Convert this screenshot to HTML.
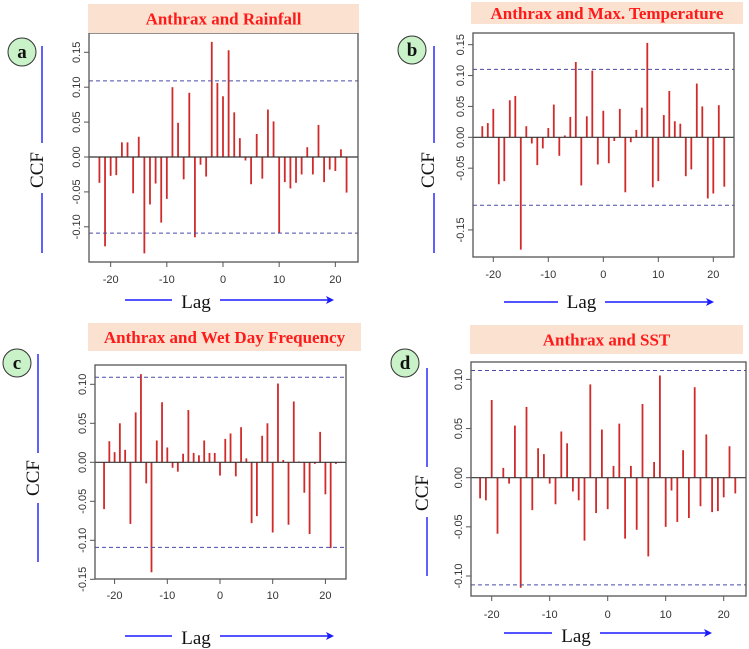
<!DOCTYPE html>
<html><head><meta charset="utf-8">
<style>
html,body{margin:0;padding:0;background:#fff;}
svg{display:block;}
</style></head>
<body>
<svg id="fig" width="749" height="649" viewBox="0 0 749 649" xmlns="http://www.w3.org/2000/svg"></svg>
<script>
const lags = [-22,-21,-20,-19,-18,-17,-16,-15,-14,-13,-12,-11,-10,-9,-8,-7,-6,-5,-4,-3,-2,-1,0,1,2,3,4,5,6,7,8,9,10,11,12,13,14,15,16,17,18,19,20,21,22];
const ccfRainfall = [-0.037,-0.128,-0.027,-0.026,0.021,0.021,-0.052,0.029,-0.138,-0.068,-0.038,-0.094,-0.060,0.100,0.049,-0.032,0.092,-0.115,-0.011,-0.028,0.165,0.106,0.087,0.153,0.064,0.027,-0.005,-0.039,0.033,-0.031,0.068,0.051,-0.109,-0.036,-0.045,-0.037,-0.025,0.014,-0.025,0.046,-0.036,-0.018,-0.020,0.011,-0.051];
const ccfMaxTemp = [0.018,0.023,0.046,-0.076,-0.071,0.060,0.067,-0.182,0.018,-0.010,-0.045,-0.018,0.015,0.053,-0.030,0.003,0.033,0.122,-0.078,0.034,0.108,-0.044,0.043,-0.042,-0.006,0.046,-0.089,-0.008,0.012,0.048,0.153,-0.081,-0.071,0.036,0.075,0.026,0.022,-0.063,-0.052,0.087,0.050,-0.099,-0.091,0.052,-0.080];
const ccfWetDay = [-0.060,0.027,0.013,0.050,0.016,-0.079,0.064,0.113,-0.027,-0.141,0.028,0.077,0.019,-0.007,-0.012,0.011,0.067,0.012,0.009,0.028,0.012,0.012,-0.017,0.030,0.037,-0.018,0.045,0.005,-0.078,-0.069,0.034,0.050,-0.090,0.101,0.003,-0.080,0.078,0.001,-0.039,-0.092,-0.002,0.039,-0.041,-0.110,-0.002];
const ccfSST = [-0.021,-0.023,0.079,-0.057,0.010,-0.006,0.053,-0.112,0.072,-0.033,0.030,0.024,-0.006,-0.027,0.047,0.035,-0.014,-0.023,-0.064,0.095,-0.036,0.049,-0.032,0.012,0.055,-0.062,0.012,-0.053,0.075,-0.080,0.016,0.104,-0.050,-0.013,-0.045,0.028,-0.041,0.092,-0.029,0.044,-0.035,-0.034,-0.020,0.032,-0.016];
const xTicks = [-20,-10,0,10,20];
const yTicksA = [-0.10,-0.05,0.00,0.05,0.10,0.15];
const yTicksB = [-0.15,-0.05,0.00,0.05,0.10,0.15];
const yTicksC = [-0.15,-0.10,-0.05,0.00,0.05,0.10];
const yTicksD = [-0.10,-0.05,0.00,0.05,0.10];
const confA = 0.109, confB = 0.110, confC = 0.109, confD = 0.109;

const NS='http://www.w3.org/2000/svg';
const svg=document.getElementById('fig');
function mk(tag,attrs,parent){const e=document.createElementNS(NS,tag);for(const k in attrs)e.setAttribute(k,attrs[k]);(parent||svg).appendChild(e);return e;}

const panels=[
 {id:'a',title:'Anthrax and Rainfall',vals:ccfRainfall,ticks:yTicksA,conf:confA,
  box:[89,33,358,262],x0:223,pxLag:5.617,y0:157,pxUnit:698,tickY:283,
  tb:[88,4,359,33],lagY:302,arrL:[125,172],arrR:[220,332],arrY:300,
  ccf:[37,170],bl:[42,46,143,193,253],badge:[22,52]},
 {id:'b',title:'Anthrax and Max. Temperature',vals:ccfMaxTemp,ticks:yTicksB,conf:confB,
  box:[473,33,734,257],x0:603.3,pxLag:5.5,y0:137.3,pxUnit:617.5,tickY:278,
  tb:[471,2,743,24],lagY:302,arrL:[504,558],arrR:[605,712],arrY:302,
  ccf:[428,170],bl:[434,46,143,193,253],badge:[412,50]},
 {id:'c',title:'Anthrax and Wet Day Frequency',vals:ccfWetDay,ticks:yTicksC,conf:confC,
  box:[95,365,346,579],x0:220,pxLag:5.27,y0:462.3,pxUnit:780,tickY:599,
  tb:[88,323,361,351],lagY:638,arrL:[125,172],arrR:[220,332],arrY:636,
  ccf:[33,478],bl:[38,354,453,503,562],badge:[17,363]},
 {id:'d',title:'Anthrax and SST',vals:ccfSST,ticks:yTicksD,conf:confD,
  box:[471,362,746,596],x0:607.7,pxLag:5.8,y0:477.7,pxUnit:983,tickY:618,
  tb:[470,325,743,354],lagY:636,arrL:[504,552],arrR:[600,710],arrY:633,
  ccf:[422,493],bl:[427,368,467,517,576],badge:[405,363]}
];
mk('defs',{}).innerHTML='<marker id="ah" markerWidth="8" markerHeight="8" refX="6" refY="4" orient="auto" markerUnits="userSpaceOnUse"><path d="M0,0 L8,4 L0,8 L2,4 Z" fill="#1a1aff"/></marker>';

panels.forEach(p=>{
  const g=mk('g',{});
  
  
  const xs=l=>p.x0+l*p.pxLag, ys=v=>p.y0-v*p.pxUnit;
  const [L,T,R,B]=p.box;
  p.vals.forEach((v,i)=>{
    const b=mk('line',{x1:xs(lags[i]),x2:xs(lags[i]),y1:ys(0),y2:ys(v),stroke:'#d12a2a','stroke-width':1.8},g);
    
    
  });
  const z=mk('line',{x1:L,x2:R,y1:ys(0),y2:ys(0),stroke:'#333','stroke-width':1.2},g);
  
  
  [p.conf,-p.conf].forEach(c=>{
    const cl=mk('line',{x1:L,x2:R,y1:ys(c),y2:ys(c),stroke:'#4a4aa8','stroke-width':1,'stroke-dasharray':'4,3'},g);
    
    
  });
  const bx=mk('rect',{x:L,y:T,width:R-L,height:B-T,fill:'none',stroke:'#555','stroke-width':1.3},g);
  
  
  xTicks.forEach(t=>{
    mk('line',{x1:xs(t),x2:xs(t),y1:B,y2:B+5,stroke:'#555'},g);
    const tx=mk('text',{x:xs(t),y:p.tickY,'text-anchor':'middle','font-family':'Liberation Sans, sans-serif','font-size':11,fill:'#333'},g);
    tx.textContent=t;
    
    
  });
  p.ticks.forEach(t=>{
    const y=ys(t);
    mk('line',{x1:L-5,x2:L,y1:y,y2:y,stroke:'#555'},g);
    const tx=mk('text',{x:L-9,y:y,transform:`rotate(-90 ${L-9} ${y})`,'text-anchor':'middle','font-family':'Liberation Sans, sans-serif','font-size':11,fill:'#333'},g);
    tx.textContent=t.toFixed(2);
    
    
  });
  const [tl,tt,tr,tbm]=p.tb;
  const trc=mk('rect',{x:tl,y:tt,width:tr-tl,height:tbm-tt,fill:'#fbe1cf'},g);
  
  
  const ti=mk('text',{x:(tl+tr)/2,y:(tt+tbm)/2+6,'text-anchor':'middle','font-family':'Liberation Serif, serif','font-weight':'bold','font-size':17,fill:'#ff1a1a'},g);
  ti.textContent=p.title;
  
  
  const lg=mk('text',{x:(p.arrL[1]+p.arrR[0])/2,y:p.lagY+6,'text-anchor':'middle','font-family':'Liberation Serif, serif','font-size':19,fill:'#111'},g);
  lg.textContent='Lag';
  
  
  mk('line',{x1:p.arrL[0],x2:p.arrL[1],y1:p.arrY,y2:p.arrY,stroke:'#1a1aff','stroke-width':1.5},g);
  mk('line',{x1:p.arrR[0],x2:p.arrR[1],y1:p.arrY,y2:p.arrY,stroke:'#1a1aff','stroke-width':1.5,'marker-end':'url(#ah)'},g);
  const cc=mk('text',{x:p.ccf[0]+6,y:p.ccf[1],transform:`rotate(-90 ${p.ccf[0]+6} ${p.ccf[1]})`,'text-anchor':'middle','font-family':'Liberation Serif, serif','font-size':19,fill:'#111'},g);
  cc.textContent='CCF';
  
  
  const [blx,a1,a2,b1,b2]=p.bl;
  mk('line',{x1:blx,x2:blx,y1:a1,y2:a2,stroke:'#2a2aff','stroke-width':1.5},g);
  mk('line',{x1:blx,x2:blx,y1:b1,y2:b2,stroke:'#2a2aff','stroke-width':1.5},g);
  const bc=mk('circle',{cx:p.badge[0],cy:p.badge[1],r:14,fill:'#c9f2c9',stroke:'#333','stroke-width':1},g);
  
  
  const bt=mk('text',{x:p.badge[0],y:p.badge[1]+6,'text-anchor':'middle','font-family':'Liberation Serif, serif','font-weight':'bold','font-size':19,fill:'#111'},g);
  bt.textContent=p.id;
  
  
});
</script>
</body></html>
